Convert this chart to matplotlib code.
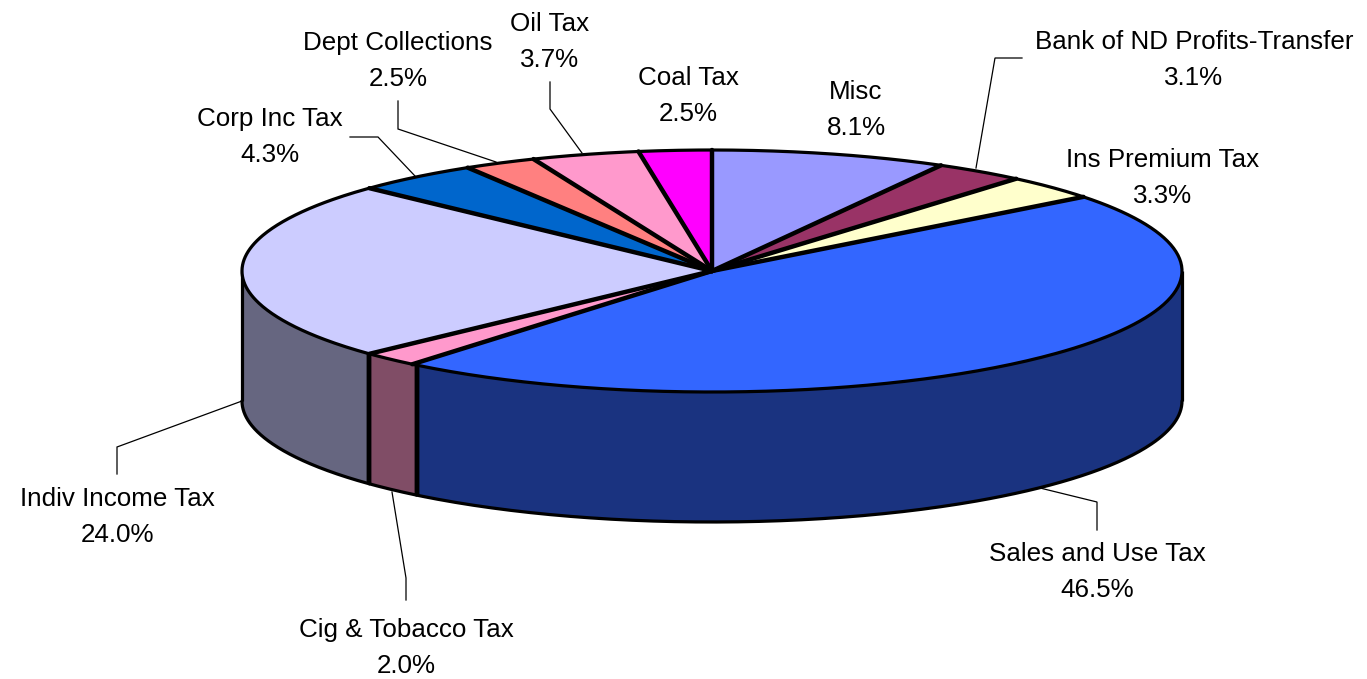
import numpy as np
import matplotlib
matplotlib.use('Agg')
import matplotlib.pyplot as plt

# Revenue shares, clockwise from twelve o'clock
names = ['Misc', 'Bank of ND Profits-Transfer', 'Ins Premium Tax', 'Sales and Use Tax',
         'Cig & Tobacco Tax', 'Indiv Income Tax', 'Corp Inc Tax', 'Dept Collections',
         'Oil Tax', 'Coal Tax']
shares = [8.1, 3.1, 3.3, 46.5, 2.0, 24.0, 4.3, 2.5, 3.7, 2.5]
colors = ['#9999FF', '#993366', '#FFFFCC', '#3366FF', '#FF99CC',
          '#CCCCFF', '#0066CC', '#FF8080', '#FF99CC', '#FF00FF']
wall_colors = {'Sales and Use Tax': '#1A3380', 'Cig & Tobacco Tax': '#804D66',
               'Indiv Income Tax': '#666680'}

# label centres and leader lines, in pixels
label_pos = [(856, 90), (1194, 40), (1163, 158), (1097, 552), (406, 628),
             (117, 497), (270, 117), (398, 41), (550, 22), (688, 76)]
leaders = [
    [(976, 168), (995, 58), (1022, 58)],
    [(1040, 488), (1097, 502), (1097, 530)],
    [(392, 492), (406, 578), (406, 600)],
    [(242, 401), (117, 447), (117, 474)],
    [(415, 176), (378, 137), (350, 137)],
    [(496, 162), (398, 129), (398, 101)],
    [(582, 153), (550, 109), (550, 82)],
]

cx, cy, rx, ry, depth = 712, 271, 470, 121, 130


def rim(f0, f1, n=200):
    t = 2 * np.pi * np.linspace(f0, f1, n)
    return cx + rx * np.sin(t), cy - ry * np.cos(t)


fig = plt.figure(figsize=(13.67, 6.79), dpi=100)
ax = fig.add_axes([0, 0, 1, 1])
ax.set_xlim(0, 1367)
ax.set_ylim(679, 0)
ax.axis('off')
plt.rcParams['font.family'] = ['Liberation Sans', 'DejaVu Sans']

ends = np.cumsum(shares) / 100.0
starts = np.concatenate([[0], ends[:-1]])

# side walls of the front half
for name, f0, f1 in zip(names, starts, ends):
    if name not in wall_colors:
        continue
    # the sales wall stops just short of its top edge, leaving a sliver of the next wall
    lo = max(f0, 0.25)
    hi = min(f1, 0.75)
    if name == 'Sales and Use Tax':
        hi = hi - 0.0018
    if name == 'Cig & Tobacco Tax':
        lo = lo - 0.0018
    x, y = rim(lo, hi)
    ax.fill(np.r_[x, x[::-1]], np.r_[y, y[::-1] + depth], color=wall_colors[name], lw=0, zorder=1)
    ax.plot(x, y + depth, color='k', lw=2.3, zorder=2, solid_capstyle='round')
    for xe, ye in ((x[0], y[0]), (x[-1], y[-1])):
        ax.plot([xe, xe], [ye, ye + depth], color='k', lw=3.2 if 0.26 < (lo if xe == x[0] else hi) < 0.74 else 2.3,
                zorder=2, solid_capstyle='butt')

# top face
for f0, f1, c in zip(starts, ends, colors):
    x, y = rim(f0, f1)
    ax.fill(np.r_[cx, x], np.r_[cy, y], facecolor=c, edgecolor='none', zorder=3)
for f0, f1 in zip(starts, ends):
    x, y = rim(f0, f1)
    ax.plot(x, y, color='k', lw=2.3, zorder=4, solid_capstyle='round')
for f in starts:
    x, y = rim(f, f, 1)
    ax.plot([cx, x[0]], [cy, y[0]], color='k', lw=3.2, zorder=5, solid_capstyle='round')

for pts in leaders:
    ax.plot(*zip(*pts), color='k', lw=0.9, zorder=0, solid_joinstyle='miter')

for name, v, (lx, ly) in zip(names, shares, label_pos):
    ax.text(lx, ly + 9, name, ha='center', va='baseline', fontsize=18.7, color='k')
    ax.text(lx, ly + 45, f'{v:.1f}%', ha='center', va='baseline', fontsize=18.7, color='k')

fig.savefig('out.png', dpi=100, facecolor='white')
